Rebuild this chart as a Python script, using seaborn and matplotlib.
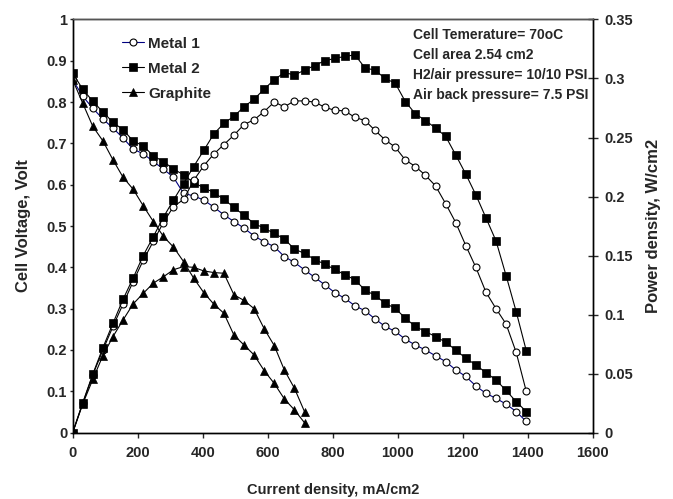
import seaborn as sns
import matplotlib.pyplot as plt
from matplotlib.lines import Line2D
from matplotlib.ticker import FuncFormatter

# current density, mA/cm2
current = [0, 31, 62, 93, 124, 155, 186, 217, 248, 279, 310, 341, 372, 403, 434, 465,
           496, 527, 558, 589, 620, 651, 682, 713, 744, 775, 806, 837, 868, 899, 930,
           961, 992, 1023, 1054, 1085, 1116, 1147, 1178, 1209, 1240, 1271, 1302, 1333,
           1364, 1395]
current_graphite = current[:24]

metal1_volt = [0.854, 0.814, 0.785, 0.759, 0.737, 0.713, 0.686, 0.675, 0.656, 0.638,
               0.618, 0.579, 0.573, 0.563, 0.546, 0.527, 0.511, 0.495, 0.476, 0.462,
               0.450, 0.426, 0.412, 0.394, 0.376, 0.358, 0.339, 0.325, 0.307, 0.295,
               0.275, 0.257, 0.245, 0.226, 0.212, 0.200, 0.186, 0.172, 0.152, 0.136,
               0.113, 0.095, 0.083, 0.069, 0.051, 0.027]
metal1_power = [0, 0.025, 0.049, 0.070, 0.090, 0.109, 0.128, 0.146, 0.162, 0.178,
                0.1915, 0.1975, 0.2136, 0.226, 0.236, 0.244, 0.252, 0.261, 0.265, 0.272,
                0.280, 0.276, 0.281, 0.281, 0.280, 0.2757, 0.273, 0.2726, 0.267, 0.2644,
                0.256, 0.248, 0.2418, 0.231, 0.2254, 0.218, 0.209, 0.194, 0.178, 0.1585,
                0.140, 0.119, 0.105, 0.092, 0.068, 0.035]
metal2_volt = [0.870, 0.831, 0.802, 0.776, 0.751, 0.733, 0.706, 0.694, 0.670, 0.656,
               0.638, 0.624, 0.605, 0.593, 0.581, 0.565, 0.545, 0.526, 0.506, 0.495,
               0.482, 0.469, 0.444, 0.434, 0.419, 0.408, 0.395, 0.382, 0.370, 0.345,
               0.332, 0.313, 0.301, 0.277, 0.257, 0.2445, 0.2325, 0.219, 0.200, 0.180,
               0.164, 0.145, 0.1275, 0.102, 0.075, 0.051]
metal2_power = [0, 0.0254, 0.0497, 0.072, 0.0927, 0.113, 0.131, 0.150, 0.166, 0.1825,
                0.197, 0.211, 0.2254, 0.239, 0.253, 0.262, 0.268, 0.276, 0.2825, 0.291,
                0.299, 0.305, 0.303, 0.307, 0.311, 0.315, 0.317, 0.3187, 0.320, 0.309,
                0.307, 0.300, 0.296, 0.2805, 0.270, 0.2644, 0.258, 0.251, 0.2353, 0.219,
                0.2014, 0.182, 0.1624, 0.133, 0.1025, 0.0695]
graphite_volt = [0.854, 0.797, 0.741, 0.706, 0.660, 0.618, 0.589, 0.549, 0.511, 0.475,
                 0.449, 0.414, 0.374, 0.339, 0.311, 0.289, 0.236, 0.212, 0.188, 0.150,
                 0.119, 0.0815, 0.055, 0.024]
graphite_power = [0, 0.0243, 0.0452, 0.0653, 0.0814, 0.0955, 0.109, 0.118, 0.1266, 0.132,
                  0.138, 0.1407, 0.140, 0.137, 0.1356, 0.135, 0.1167, 0.112, 0.105, 0.088,
                  0.0737, 0.053, 0.0376, 0.0178]

labels = ['Metal 1', 'Metal 2', 'Graphite']
notes = ['Cell Temerature= 70oC', 'Cell area 2.54 cm2',
         'H2/air pressure= 10/10 PSI', 'Air back pressure= 7.5 PSI']

sns.set_style('ticks')
plt.rcParams['font.family'] = ['Liberation Sans', 'DejaVu Sans']
plt.rcParams['font.weight'] = 'bold'
plt.rcParams['axes.labelweight'] = 'bold'

fig = plt.figure(figsize=(6.73, 4.99), dpi=100)
ax = fig.add_axes([0.108, 0.133, 0.773, 0.828])
ax2 = ax.twinx()

circ = dict(marker='o', markerfacecolor='white', markeredgecolor='black',
            markersize=5, markeredgewidth=0.8)
sq = dict(marker='s', markerfacecolor='black', markeredgecolor='black',
          markersize=5.2, markeredgewidth=0.5)
tri = dict(marker='^', markerfacecolor='black', markeredgecolor='black',
           markersize=5.5, markeredgewidth=0.5)
common = dict(linewidth=0.8, estimator=None, sort=False, legend=False)

sns.lineplot(x=current, y=metal1_volt, ax=ax, color='#000080', **circ, **common)
sns.lineplot(x=current, y=metal2_volt, ax=ax, color='black', **sq, **common)
sns.lineplot(x=current_graphite, y=graphite_volt, ax=ax, color='black', **tri, **common)

sns.lineplot(x=current, y=metal1_power, ax=ax2, color='black', **circ, **common)
sns.lineplot(x=current, y=metal2_power, ax=ax2, color='black', **sq, **common)
sns.lineplot(x=current_graphite, y=graphite_power, ax=ax2, color='black', **tri, **common)

fmt = FuncFormatter(lambda v, p: f'{v:g}')
ax.set_xlim(0, 1600)
ax.set_ylim(0, 1)
ax2.set_ylim(0, 0.35)
ax.set_xticks(range(0, 1601, 200))
ax.set_yticks([i / 10 for i in range(11)])
ax2.set_yticks([i * 0.05 for i in range(8)])
ax.yaxis.set_major_formatter(fmt)
ax2.yaxis.set_major_formatter(fmt)

ax.set_xlabel('Current density, mA/cm2', fontsize=10.5, labelpad=17)
ax.set_ylabel('Cell Voltage, Volt', fontsize=12, labelpad=11)
ax2.set_ylabel('Power density, W/cm2', fontsize=12, labelpad=9)

ax.tick_params(axis='y', direction='out', length=2.5, width=1, labelsize=10.5, pad=1.5)
ax.tick_params(axis='x', direction='out', length=3.5, width=1, labelsize=10.5, pad=6)
ax2.tick_params(axis='y', direction='inout', length=7, width=1, labelsize=10.5, pad=5)

for a in (ax, ax2):
    for s in a.spines.values():
        s.set_linewidth(1)
        s.set_color('black')
ax2.spines['top'].set_color('#555555')

handles = [Line2D([], [], color='#000080', linewidth=0.8, **circ),
           Line2D([], [], color='black', linewidth=0.8, **sq),
           Line2D([], [], color='black', linewidth=0.8, **tri)]
ax2.legend(handles, labels, loc='upper left', bbox_to_anchor=(0.095, 0.958),
           frameon=False, fontsize=11, handlelength=1.45, handletextpad=0.25,
           labelspacing=0.72, borderpad=0, borderaxespad=0)

for i, t in enumerate(notes):
    ax.text(1048, 0.962 - i * 0.048, t, fontsize=10, fontweight='bold', va='center')

fig.savefig('out.png', dpi=100)
